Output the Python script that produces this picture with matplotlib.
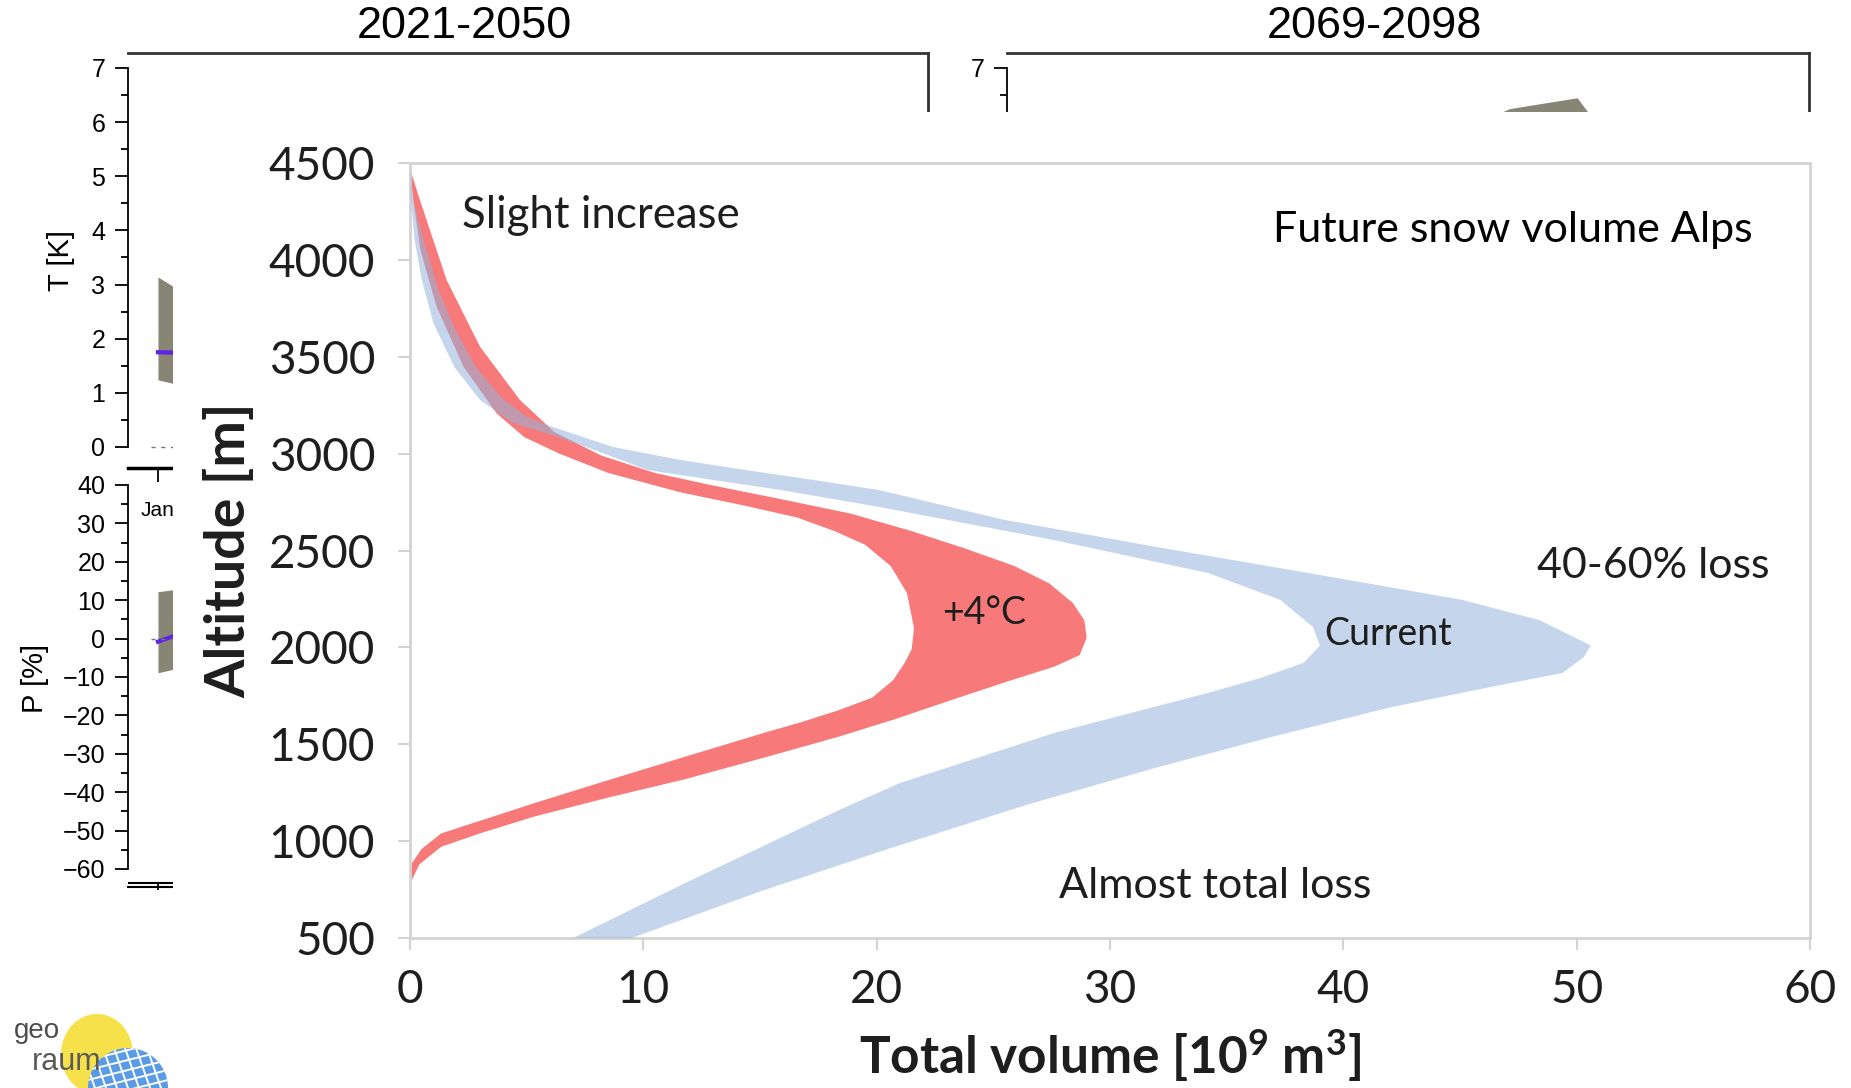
import numpy as np
import matplotlib.pyplot as plt
from matplotlib.patches import Rectangle, Ellipse, Circle

W, H = 1851, 1088
SANS = ['Lato', 'DejaVu Sans']
HELV = ['Liberation Sans', 'DejaVu Sans']

plt.rcParams['font.family'] = SANS
plt.rcParams['mathtext.fontset'] = 'custom'
plt.rcParams['mathtext.rm'] = 'Lato:bold'
plt.rcParams['mathtext.it'] = 'Lato:bold'
plt.rcParams['mathtext.bf'] = 'Lato:bold'

# monthly change panels (only the start of each is left uncovered)
months_near = [1, 2]
t_hi_near = [3.14, 2.37]
t_lo_near = [1.24, 0.95]
t_med_near = [1.75, 1.72]
p_hi_near = [12.2, 14.5]
p_lo_near = [-8.9, -4.9]
p_med_near = [-0.8, 5.5]

months_far = [7, 8, 9, 10]
t_hi_far = [5.7, 6.25, 6.45, 4.8]
t_lo_far = [3.3, 3.6, 3.9, 3.1]

# snow volume [10^9 m3] against altitude [m]: outer and inner edge of each band
cur_out_x = [0, 0.15, 0.6, 1.2, 1.9, 2.8, 3.9, 5.0, 6.1, 8.7, 11.6, 14.4, 17.3, 20.1,
             25.4, 32.0, 38.5, 45.1, 48.4, 50.6, 50.3, 49.4, 46.5, 42.0, 37.0, 32.0,
             26.5, 20.5, 15.0, 9.5]
cur_out_alt = [4470, 4300, 4100, 3850, 3650, 3450, 3290, 3190, 3138, 3034, 2967, 2915,
               2864, 2812, 2660, 2518, 2384, 2245, 2141, 2010, 1950, 1868, 1800, 1690,
               1540, 1380, 1190, 960, 740, 500]
cur_in_x = [0, 0.05, 0.2, 0.5, 1.0, 1.9, 3.0, 4.4, 6.0, 7.9, 10.2, 13.0, 15.9, 20.1,
            27.6, 34.2, 37.3, 38.7, 39.0, 38.3, 36.4, 34.2, 27.6, 21.0, 18.4, 11.8, 7.0]
cur_in_alt = [4470, 4300, 4100, 3900, 3674, 3447, 3277, 3158, 3100, 3019, 2915, 2864,
              2812, 2725, 2554, 2384, 2245, 2105, 2010, 1920, 1840, 1765, 1558, 1300,
              1161, 784, 500]

warm_out_x = [0, 0.45, 0.9, 1.57, 3.0, 4.71, 6.2, 8.2, 10.5, 13.0, 15.9, 18.9, 21.5,
              23.8, 25.9, 27.4, 28.4, 28.9, 29.0, 28.7, 27.6, 25.5, 23.0, 20.8, 18.4,
              15.0, 11.8, 8.5, 5.3, 3.0, 1.34, 0.4, 0]
warm_out_alt = [4470, 4300, 4137, 3896, 3552, 3277, 3110, 2990, 2900, 2835, 2765, 2690,
                2600, 2510, 2420, 2330, 2230, 2140, 2050, 1960, 1900, 1820, 1720, 1630,
                1540, 1425, 1320, 1225, 1126, 1040, 971, 880, 780]
warm_in_x = [0, 0.15, 0.45, 1.14, 2.29, 3.71, 4.9, 6.4, 8.5, 11.6, 14.4, 16.6, 18.2,
             19.5, 20.6, 21.3, 21.6, 21.5, 21.2, 20.7, 19.8, 18.4, 16.8, 15.2, 11.8,
             8.5, 5.3, 3.0, 1.34, 0.5, 0.05, 0]
warm_in_alt = [4470, 4300, 4050, 3758, 3449, 3208, 3085, 3000, 2900, 2800, 2730, 2670,
               2600, 2530, 2420, 2280, 2100, 1990, 1920, 1830, 1740, 1677, 1615, 1560,
               1436, 1315, 1195, 1105, 1040, 960, 880, 780]

x_ticks = [0, 10, 20, 30, 40, 50, 60]
y_ticks = [500, 1000, 1500, 2000, 2500, 3000, 3500, 4000, 4500]

GREY = '#878574'
PURPLE = '#5F22E8'
RED = '#F77979'
BLUE = (150 / 255, 180 / 255, 220 / 255)
TXT = '#1e1e1e'


def px_rect(x0, y0, x1, y1):
    return [x0 / W, 1 - y1 / H, (x1 - x0) / W, (y1 - y0) / H]


fig = plt.figure(figsize=(W / 100, H / 100), dpi=100)

# ---- temperature panels ----
ax_t = fig.add_axes(px_rect(128, 53, 928, 468), zorder=0)
ax_r = fig.add_axes(px_rect(1007, 53, 1809, 468), zorder=0)
for a in (ax_t, ax_r):
    a.set_facecolor('none')
    a.set_ylim(-0.388, 7.277)
    a.set_xlim(0.555, 12.435)
    a.spines['top'].set(color='#333333', linewidth=2)
    a.spines['right'].set(color='#333333', linewidth=2)
    a.spines['left'].set_bounds(0, 7)
    a.spines['left'].set_linewidth(1.3)
    a.set_yticks(range(0, 8))
    a.set_yticks(np.arange(0.5, 7, 1), minor=True)
    a.tick_params(axis='y', which='major', length=9.4, width=1.3, pad=7)
    a.tick_params(axis='y', which='minor', length=5, width=1.3)
    for lab in a.get_yticklabels():
        lab.set_fontfamily(HELV)
        lab.set_fontsize(18)

ax_t.fill_between(months_near, t_lo_near, t_hi_near, color=GREY, lw=0)
ax_t.plot(months_near, t_med_near, color=PURPLE, lw=3)
ax_t.plot([0.9, 12], [0, 0], color='#777777', lw=1, ls=(0, (3, 4)))
ax_t.spines['bottom'].set_linewidth(2.5)
ax_t.set_xticks([1])
ax_t.set_xticklabels(['Jan'], fontfamily=HELV, fontsize=15)
ax_t.tick_params(axis='x', length=10, width=1.3, pad=14)
ax_t.set_ylabel('T [K]', fontfamily=HELV, fontsize=21, labelpad=12)

ax_r.fill_between(months_far, t_lo_far, t_hi_far, color=GREY, lw=0)
ax_r.spines['bottom'].set_visible(False)
ax_r.set_xticks([])

# ---- precipitation panel ----
ax_p = fig.add_axes(px_rect(128, 470, 928, 887), zorder=0)
ax_p.set_facecolor('none')
ax_p.set_xlim(0.555, 12.435)
ax_p.set_ylim(-64.69, 43.9)
ax_p.fill_between(months_near, p_lo_near, p_hi_near, color=GREY, lw=0)
ax_p.plot(months_near, p_med_near, color=PURPLE, lw=3)
ax_p.plot([0.9, 12], [0, 0], color='#777777', lw=1, ls=(0, (3, 4)))
ax_p.spines['top'].set_visible(False)
ax_p.spines['right'].set_visible(False)
ax_p.spines['left'].set_bounds(-60, 40)
ax_p.spines['left'].set_linewidth(1.3)
ax_p.spines['bottom'].set_linewidth(1.5)
ax_p.plot([0, 1], [0.01, 0.01], transform=ax_p.transAxes, color='black', lw=1.5)
ax_p.set_yticks(range(-60, 41, 10))
ax_p.set_yticks(np.arange(-55, 40, 10), minor=True)
ax_p.tick_params(axis='y', which='major', length=9.4, width=1.3, pad=7)
ax_p.tick_params(axis='y', which='minor', length=5, width=1.3)
for lab in ax_p.get_yticklabels():
    lab.set_fontfamily(HELV)
    lab.set_fontsize(18)
ax_p.set_xticks([1])
ax_p.set_xticklabels([''])
ax_p.tick_params(axis='x', length=5, width=1.3, direction='inout')
ax_p.set_ylabel('P [%]', fontfamily=HELV, fontsize=21, labelpad=10)

fig.text(464 / W, 1 - 26 / H, '2021-2050', ha='center', va='center',
         fontfamily=HELV, fontsize=32.5)
fig.text(1374 / W, 1 - 26 / H, '2069-2098', ha='center', va='center',
         fontfamily=HELV, fontsize=32.5)

# white sheet the snow chart sits on
fig.add_artist(Rectangle((173 / W, 0), 1 - 173 / W, 1 - 112 / H,
                         transform=fig.transFigure, facecolor='white',
                         edgecolor='none', zorder=1))

# ---- snow volume chart ----
ax = fig.add_axes(px_rect(410, 163, 1810, 938), zorder=2)
ax.set_facecolor('white')
ax.set_xlim(0, 60)
ax.set_ylim(500, 4500)

ax.fill(np.r_[warm_out_x, warm_in_x[::-1]], np.r_[warm_out_alt, warm_in_alt[::-1]],
        color=RED, lw=0, zorder=2)
ax.fill(np.r_[cur_out_x, cur_in_x[::-1]], np.r_[cur_out_alt, cur_in_alt[::-1]],
        color=BLUE, alpha=0.55, lw=0, zorder=3)

for s in ax.spines.values():
    s.set_color('#D3D3D3')
    s.set_linewidth(2)
ax.set_xticks(x_ticks)
ax.set_yticks(y_ticks)
ax.tick_params(length=8.6, width=1.5, color='#D3D3D3', labelsize=33, labelcolor=TXT)
ax.tick_params(axis='x', pad=13.5)
ax.tick_params(axis='y', pad=16.5)
ax.set_ylabel('Altitude [m]', fontsize=40, fontweight='bold', color=TXT, labelpad=10)
ax.set_xlabel('Total volume [10$^9$ m$^3$]', fontsize=37, fontweight='bold',
              color=TXT, labelpad=12)

ax.text(2.23, 4230, 'Slight increase', fontsize=31.5, color=TXT, va='center')
ax.text(37.0, 4155, 'Future snow volume Alps', fontsize=31, color='black', va='center')
ax.text(48.3, 2420, '40-60% loss', fontsize=31, color=TXT, va='center')
ax.text(39.2, 2070, 'Current', fontsize=27, color=TXT, va='center')
ax.text(22.8, 2175, '+4°C', fontsize=27, color=TXT, va='center')
ax.text(27.8, 766, 'Almost total loss', fontsize=31, color=TXT, va='center')

# ---- georaum logo ----
lg = fig.add_axes(px_rect(0, 1008, 175, 1088), zorder=3)
lg.set_xlim(0, 175)
lg.set_ylim(80, 0)
lg.axis('off')
lg.add_patch(Ellipse((97, 46), 72, 80, color='#F6DC2A', alpha=0.85, lw=0))
globe = Circle((128, 80), 40, color='#5A9BE6', lw=0)
lg.add_patch(globe)
for k in range(-4, 5):
    ln, = lg.plot([128 + k * 11 - 14, 128 + k * 11 + 14], [40, 120], color='white', lw=1.4)
    ln.set_clip_path(globe)
    ln, = lg.plot([80, 176], [42 + k * 10 + 12, 42 + k * 10 - 12], color='white', lw=1.4)
    ln.set_clip_path(globe)
lg.text(14, 30, 'geo', fontfamily=HELV, fontsize=20, color='#4d4d4d', va='baseline')
lg.text(32, 62, 'raum', fontfamily=HELV, fontsize=22, color='#5a5a5a', va='baseline')

fig.savefig('out.png', dpi=100, facecolor='white')
